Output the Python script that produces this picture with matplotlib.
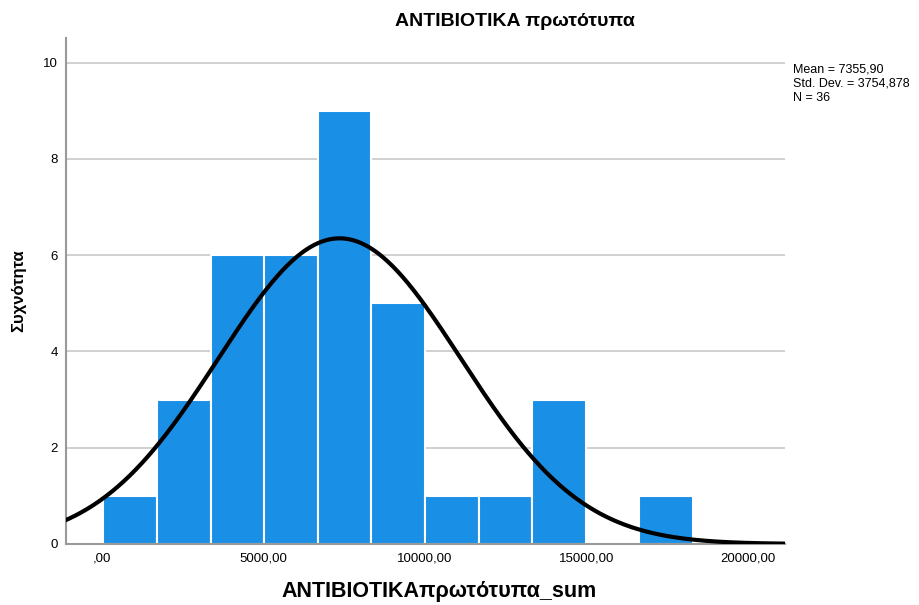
import numpy as np
from matplotlib import pyplot as plt

# histogram data
bin_start = 40.0
bin_width = 1660.0
counts = [1, 3, 6, 6, 9, 5, 1, 1, 3, 0, 1]

mean = 7355.90
std_dev = 3754.878
n = 36

x_ticks = [0, 5000, 10000, 15000, 20000]
x_tick_labels = [',00', '5000,00', '10000,00', '15000,00', '20000,00']
y_ticks = [0, 2, 4, 6, 8, 10]

plt.rcParams['font.family'] = ['Liberation Sans', 'DejaVu Sans']

fig = plt.figure(figsize=(9.19, 6.05), dpi=100)
ax = fig.add_axes([66/919, 1 - 544/605, (785-66)/919, (544-38)/605])

lefts = bin_start + bin_width * np.arange(len(counts))
ax.bar(lefts, counts, width=bin_width, align='edge', color='#1a8fe6',
       edgecolor='white', linewidth=1.5, zorder=2)

# normal curve scaled to counts
xs = np.linspace(-1200, 21200, 600)
ys = n * bin_width / (std_dev * np.sqrt(2*np.pi)) * np.exp(-0.5*((xs - mean)/std_dev)**2)
ax.plot(xs, ys, color='black', linewidth=3, zorder=3)

ax.set_xlim(-1116, 21147)
ax.set_ylim(0, 10.51)
ax.set_xticks(x_ticks)
ax.set_xticklabels(x_tick_labels)
ax.set_yticks(y_ticks)
ax.tick_params(axis='both', length=0, labelsize=9.5, pad=6)
ax.yaxis.grid(True, color='#c8c8c8', linewidth=1.2, zorder=0)
ax.set_axisbelow(True)
for s in ['top', 'right']:
    ax.spines[s].set_visible(False)
for s in ['left', 'bottom']:
    ax.spines[s].set_color('#999999')
    ax.spines[s].set_linewidth(1.5)

fig.text(19/919, 1 - 291/605, 'Συχνότητα', fontsize=12, fontweight='bold',
         rotation=90, ha='center', va='center')
fig.text(439/919, 1 - 592/605, 'ANTIBIOTIKAπρωτότυπα_sum', fontsize=15.5,
         fontweight='bold', ha='center', va='center')
fig.text(515/919, 1 - 22/605, 'ANTIBIOTIKA πρωτότυπα', fontsize=14,
         fontweight='bold', ha='center', va='center')
fig.text(793/919, 1 - 64/605,
         'Mean = 7355,90\nStd. Dev. = 3754,878\nN = %d' % n,
         fontsize=9, ha='left', va='top', linespacing=1.2)

fig.savefig('out.png', dpi=100)
